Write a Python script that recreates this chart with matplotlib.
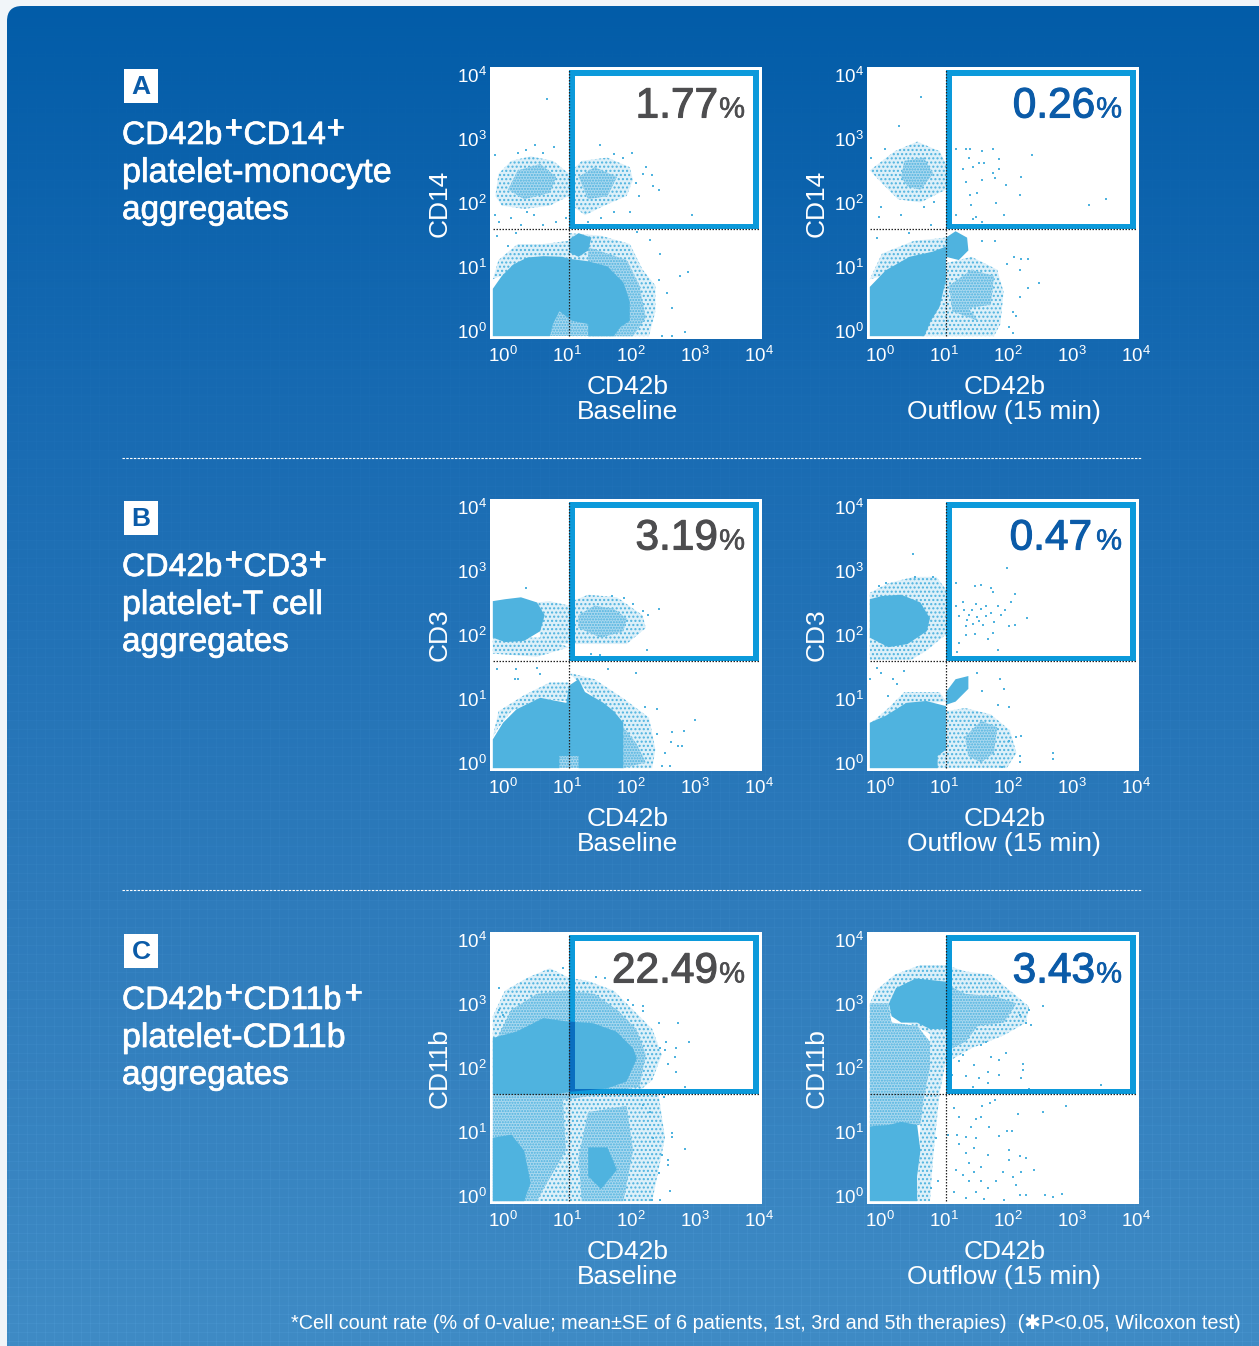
import numpy as np
import matplotlib
matplotlib.use('Agg')
import matplotlib.pyplot as plt
from matplotlib.patches import FancyBboxPatch, Rectangle, PathPatch
from matplotlib.path import Path
from matplotlib.transforms import ScaledTranslation
import matplotlib.patheffects as pe

plt.rcParams['font.family'] = ['Liberation Sans', 'DejaVu Sans']
plt.rcParams['mathtext.default'] = 'regular'
plt.rcParams['hatch.linewidth'] = 1.0

W, H = 1259, 1346
DOT = '#4FB3DF'; MID = '#A9D8EF'; LIGHT = '#DDF0F9'
GATE = '#0C9ADB'; GREY = '#4D4D4F'; NAVY = '#0B5BA8'

TICKS = [1, 10, 100, 1000, 10000]
TICK_LABELS = ['$10^{0}$', '$10^{1}$', '$10^{2}$', '$10^{3}$', '$10^{4}$']
GATE_X = 1.0
GATE_Y = 1.48
LETTERS = ['A', 'B', 'C']
MARKERS = ['CD14', 'CD3', 'CD11b']
CONDITIONS = ['Baseline', 'Outflow (15 min)']
TITLE_FIRST = ['CD14', 'CD3', 'CD11b']
TITLE_SECOND = ['platelet-monocyte', 'platelet-T cell', 'platelet-CD11b']
PCT_BASE = ['1.77', '3.19', '22.49']
PCT_OUT = ['0.26', '0.47', '3.43']

# All cloud values are log10 fluorescence.
A_BASE_LIGHT = [
 [(-.15,2.0),(-.1,2.35),(.1,2.55),(.4,2.62),(.75,2.55),(1.0,2.35),(1.0,2.0),(.7,1.85),(.3,1.8),(-.05,1.85)],
 [(1,2.35),(1.2,2.55),(1.6,2.6),(1.95,2.45),(2.0,2.25),(1.9,2.0),(1.55,1.85),(1.25,1.7),(1.05,1.85)],
 [(1.0,1.42),(1.5,1.38),(1.95,1.25),(2.15,.85),(2.35,.6),(2.35,.2),(2.25,-.19),(1.0,-.19)],
 [(-.19,.7),(-.1,1.0),(.2,1.25),(.6,1.25),(1,1.3),(1,.9),(.3,.9)]]
A_BASE_MID = [
 [(.05,2.1),(.2,2.4),(.55,2.5),(.8,2.3),(.7,2.05),(.3,1.95)],
 [(1.15,2.3),(1.4,2.45),(1.75,2.3),(1.6,2.0),(1.3,1.95)],
 [(1.3,1.2),(1.9,1.0),(2.1,.6),(2.2,.1),(2.0,-.19),(1.3,-.19)],
 [(.6,-.19),(.6,.2),(1.3,.2),(1.3,-.19)]]
A_BASE_DENSE = [
 [(-.19,-.19),(-.19,.55),(-.05,.75),(.13,.93),(.35,1.04),(.6,1.06),(.9,1.05),(1.0,1.02),(1.3,.98),(1.6,.9),(1.85,.65),(1.95,.35),(1.95,.05),(1.8,-.05),(1.7,-.19),(1.3,-.19),(1.3,0),(1.05,.05),(.85,.2),(.75,0),(.7,-.19)],
 [(1.0,1.12),(1.0,1.32),(1.15,1.42),(1.35,1.35),(1.3,1.15),(1.15,1.05)]]
A_BASE_DOTS = [(.65,3.51),(2.92,1.70),(2.40,2.10),(2.32,2.16),(2.21,2.46),(2.29,2.33),(1.98,2.67),(1.49,2.79),(.47,2.79),(.77,2.76),(.33,2.72),(-.16,2.64),
 (2.86,.81),(2.73,.75),(2.53,.48),(2.61,.25),(2.82,-.13),(2.61,-.18),(2.46,-.18),(2.42,1.10),(2.27,1.31),(2.06,1.44),(2.40,.69),(2.27,.64),(-.13,1.37),(.05,1.22),(.18,1.42),
 (-.15,1.7),(-.1,1.6),(.1,1.65),(.25,1.55),(.45,1.7),(.6,1.55),(.8,1.6),(.95,1.65),(.35,1.75),(1.3,1.6),(1.5,1.65),(1.7,1.75),(1.95,1.75),(2.1,2.0),(2.05,2.2),(2.15,2.35),(1.85,2.6),(1.7,2.65),(.2,2.68),(.6,2.68)]

A_OUT_LIGHT = [
 [(-.0,2.2),(-.19,2.4),(.2,2.7),(.55,2.85),(.9,2.7),(1.0,2.5),(1.0,2.1),(.6,1.9),(.25,1.95)],
 [(1.0,.95),(1.4,1.05),(1.8,.85),(1.9,.5),(1.85,0),(1.75,-.19),(1.0,-.19)],
 [(-.19,.7),(0,1.1),(.5,1.3),(1,1.35),(1,1.1),(.4,1.0),(0,.75)],
 [(.6,-.19),(.85,.35),(1,.7),(1,-.19)]]
A_OUT_MID = [
 [(.3,2.3),(.35,2.55),(.65,2.6),(.8,2.35),(.6,2.1),(.4,2.15)],
 [(1.05,.6),(1.4,.85),(1.75,.75),(1.7,.3),(1.35,.25),(1.5,.05),(1.1,.2)]]
A_OUT_DENSE = [
 [(-.19,-.19),(-.19,.58),(.06,.84),(.43,1.05),(.79,1.13),(1.0,1.21),(1.0,.69),(.9,.27),(.77,.06),(.66,-.19)],
 [(1.0,1.05),(1.0,1.35),(1.15,1.45),(1.33,1.35),(1.35,1.15),(1.2,1.0)]]
A_OUT_DOTS = [(.61,3.54),(.26,3.09),(1.16,2.73),(1.31,2.73),(1.38,2.73),(1.57,2.71),(1.73,2.73),(2.35,2.64),(1.83,2.58),(1.6,2.51),(1.42,2.46),(1.26,2.43),(1.36,2.6),(1.52,2.51),(1.83,2.43),(1.73,2.36),(2.17,2.30),(1.94,2.18),(1.76,2.28),(1.57,2.25),(1.31,2.22),(1.38,2.02),(1.48,2.04),(2.15,2.02),(1.78,1.89),(3.5,1.95),(3.23,1.86),(1.39,1.86),(1.91,1.70),(1.42,1.64),(1.16,1.70),(1.47,1.67),(1.57,1.59),(2.45,.64),(2.28,.56),(2.15,.84),(2.17,1.02),(2.07,1.04),(2.28,1.02),(1.96,.94),(2.04,.19),(2.09,.12),(2.15,.43),(1.99,-.04),(2.04,-.14),(-.17,2.6),(.04,2.73),(-.02,1.83),(-.04,1.68),(.3,1.7),(.66,1.83),(.82,1.91),(.77,1.55),(.43,1.42),(-.07,1.34),(1.76,1.29),(1.56,1.29)]

B_BASE_LIGHT = [
 [(1,1.75),(1,2.4),(1.3,2.52),(1.75,2.48),(2.15,2.2),(2.2,2.0),(1.9,1.75)],
 [(-.19,1.6),(-.19,1.85),(.6,1.85),(1,1.7),(.5,1.55)],
 [(1.0,1.3),(1.4,1.2),(1.85,.9),(2.25,.6),(2.35,.1),(2.3,-.19),(1.8,-.19),(1.85,.5),(1.3,1.0)],
 [(-.19,.3),(-.1,.7),(.3,.95),(.7,1.15),(1,1.15),(1,.85),(.55,.9),(.1,.7),(-.1,.45)],
 [(.55,1.85),(.5,2.4),(.7,2.42),(1.0,2.35),(1.0,1.75),(.7,1.75)]]
B_BASE_MID = [
 [(1.15,2.0),(1.15,2.2),(1.4,2.35),(1.7,2.3),(1.9,2.15),(1.85,1.95),(1.5,1.85)],
 [(1.85,.45),(2.05,.2),(2.2,-.1),(1.85,-.19)],
 [(.85,-.19),(.85,.05),(1.15,.05),(1.15,-.19)]]
B_BASE_DENSE = [
 [(-.19,1.85),(-.19,2.42),(0,2.45),(.25,2.48),(.5,2.4),(.62,2.2),(.55,1.95),(.3,1.8),(0,1.78)],
 [(-.19,-.19),(-.19,.26),(-.03,.52),(.18,.73),(.55,.91),(.96,.83),(1.0,1.1),(1.15,1.2),(1.25,1.0),(1.54,.83),(1.7,.7),(1.85,.52),(1.85,-.19),(1.15,-.19),(1.15,0),(.85,0),(.85,-.19)]]
B_BASE_DOTS = [(.33,2.62),(2.4,2.29),(2.22,1.66),(2.24,2.2),(2.16,2.27),(2.0,2.37),(1.86,2.47),(1.68,2.5),(-.13,1.36),(.17,1.36),(.5,1.38),(.55,1.28),(.15,1.2),(.21,1.2),(1.61,1.36),(2.04,1.3),(2.97,.57),(2.79,.39),(2.61,.37),(2.6,.22),(2.71,.16),(2.77,.16),(2.5,.04),(2.58,-.16),(2.45,-.16),(2.37,.73),(2.19,.76),(2.37,.34),(1.35,1.6),(1.48,1.58)]

B_OUT_LIGHT = [
 [(-.19,1.5),(-.19,2.55),(.1,2.7),(.5,2.8),(.85,2.8),(1.0,2.6),(1.0,1.9),(.7,1.65),(.45,1.5)],
 [(1,.7),(1.3,.75),(1.7,.65),(2,.4),(2.1,.05),(1.95,-.19),(1,-.19)],
 [(-.19,.5),(.1,.75),(.35,1.0),(.9,1.0),(1,.85),(.4,.8)],
 [(.85,-.19),(.85,.05),(1,.15),(1,-.19)]]
B_OUT_MID = [[(1.3,.3),(1.55,.55),(1.8,.45),(1.75,.05),(1.55,-.1),(1.35,0)]]
B_OUT_DENSE = [
 [(-.19,1.85),(-.19,2.45),(0,2.5),(.3,2.52),(.6,2.4),(.75,2.15),(.7,1.95),(.4,1.75),(.1,1.7)],
 [(-.19,-.19),(-.19,.52),(.06,.63),(.38,.83),(.69,.86),(1.0,.78),(1.0,.1),(.87,0),(.87,-.19)],
 [(1.0,.8),(1.0,1.0),(1.15,1.2),(1.35,1.25),(1.35,1.05),(1.15,.85)]]
B_OUT_DOTS = [(.49,3.16),(1.96,2.94),(1.16,2.71),(1.45,2.65),(1.55,2.68),(1.7,2.63),(1.73,2.56),(2.08,2.53),(2.02,2.4),(1.81,2.34),(1.93,2.28),(1.86,2.21),(2.27,2.16),(1.99,2.03),(2.08,2.04),(1.73,1.92),(1.65,1.83),(1.45,1.9),(1.31,1.89),(1.21,1.77),(1.18,1.63),(1.82,1.65),(1.64,1.54),(1.48,1.3),(1.85,1.21),(1.9,1.05),(1.99,.76),(1.57,1.02),(1.82,.79),(2.17,.31),(2.09,.29),(1.99,.24),(2.15,.0),(2.15,-.1),(2.67,.04),(2.67,-.05),(1.88,-.17),(-.07,1.38),(-.02,1.3),(.35,1.33),(.17,1.2),(.24,1.12),(.09,.94),(-.19,1.21),(.07,2.71),(-.04,2.65),(.52,2.8),(.79,2.8),
 (1.36,2.21),(1.47,2.37),(1.55,2.29),(1.26,2.4),(1.62,2.19),(1.52,2.11),(1.42,2.06),(1.21,2.19),(1.31,2.03),(1.7,2.24),(1.62,2.34),(1.16,2.34),(1.4,2.28),(1.33,2.13),(1.58,2.05),(1.75,2.1),(1.48,2.18),(1.28,2.28)]

C_BASE_LIGHT = [
 [(-.19,1.48),(-.19,2.7),(0,3.1),(.35,3.3),(.7,3.45),(1.0,3.3),(1.3,3.25),(1.7,3.1),(2.0,2.8),(2.3,2.5),(2.45,2.1),(2.3,1.7),(2.0,1.45)],
 [(.45,-.19),(.55,.2),(.9,.7),(.9,1.48),(2.4,1.48),(2.5,.8),(2.3,-.19)]]
C_BASE_MID = [
 [(-.1,2.4),(.1,2.8),(.5,3.05),(.95,3.1),(1.4,3.05),(1.75,2.8),(2.05,2.5),(2.2,2.1),(2.1,1.6),(1,1.4),(-.19,1.4)],
 [(-.19,-.19),(-.19,1.48),(.9,1.48),(.95,.6),(.6,0),(.5,-.19)],
 [(1.2,-.19),(1.15,.5),(1.3,1.2),(1.9,1.3),(2.0,.6),(1.85,-.19)]]
C_BASE_DENSE = [
 [(-.19,2.36),(.18,2.46),(.6,2.67),(.96,2.62),(1.38,2.59),(1.74,2.46),(2.0,2.2),(2.06,2.04),(1.9,1.68),(1.59,1.57),(1.02,1.52),(.75,1.47),(-.19,1.48)],
 [(-.19,-.19),(-.19,.8),(.1,.85),(.3,.6),(.4,.1),(.3,-.19)],
 [(1.3,.2),(1.3,.65),(1.6,.65),(1.75,.3),(1.5,0)]]
C_BASE_DOTS = [(.9,3.46),(-.1,3.14),(.83,3.34),(1.43,3.31),(1.56,3.29),(1.24,3.22),(2.16,2.86),(2.16,2.78),(2.4,2.59),(2.71,2.59),(2.88,2.29),(2.68,2.21),(2.52,2.29),(2.66,2.07),(2.55,1.95),(2.67,1.83),(2.5,2.17),(2.42,2.2),(2.82,1.59),(2.49,1.44),(2.61,.87),(2.61,.81),(2.82,.63),(2.55,.45),(2.55,.37),(2.58,-.03),(2.42,-.17),(2.29,-.17),(2.4,.25),(2.32,.79),(2.45,.53),(2.27,1.21),(2.16,1.31),(2.0,2.88),(1.93,2.95),(-.1,2.8),(-.03,2.72)]

C_OUT_LIGHT = [
 [(-.19,2.9),(-.1,3.1),(.2,3.35),(.6,3.5),(1,3.5),(1.3,3.4),(1.7,3.35),(2,3.1),(2.3,2.85),(2.25,2.6),(1.9,2.4),(1.4,2.2),(1.05,2.0),(1,2.3)],
 [(.55,-.19),(.75,-.19),(.8,.5),(.85,1.0),(.9,1.5),(1,2.0),(1,2.5),(.75,2.5),(.75,1.9),(.65,1.4),(.6,1.0)]]
C_OUT_MID = [
 [(-.19,.98),(-.19,2.9),(.1,2.9),(.15,2.6),(.55,2.55),(.75,2.3),(.75,1.9),(.65,1.4),(.6,1.0)],
 [(1.0,2.3),(1.0,3.2),(1.3,3.05),(1.8,3.0),(2.1,2.9),(1.9,2.6),(1.5,2.55),(1.3,2.3),(1.1,2.2)]]
C_OUT_DENSE = [
 [(.11,2.9),(.22,3.14),(.53,3.29),(1.0,3.24),(1.0,2.5),(.75,2.5),(.55,2.6),(.3,2.6),(.15,2.7)],
 [(-.19,-.19),(-.19,.98),(.1,1.0),(.3,1.05),(.55,1.0),(.6,.6),(.55,.2),(.55,-.19)]]
C_OUT_DOTS = [(3.42,1.63),(2.88,1.29),(2.51,1.2),(2.51,2.86),(2.33,2.56),(2.25,2.6),(2.15,2.72),(2.3,2.8),(2.21,1.96),(2.21,1.86),(1.94,2.12),(1.83,2.02),(1.7,2.07),(1.55,2.25),(1.63,2.3),(1.26,2.09),(1.21,2.0),(1.44,1.94),(1.31,1.76),(1.1,1.78),(1.52,1.73),(1.65,1.83),(1.83,1.78),(2.17,1.74),(1.65,1.65),(1.42,1.59),(2.3,1.56),(1.76,1.39),(1.57,1.3),(1.69,1.34),(1.13,1.26),(1.21,1.13),(1.47,1.1),(1.55,1.13),(2.12,1.18),(1.68,.97),(1.96,.9),(2.03,.9),(1.83,.83),(1.39,.97),(1.18,.84),(1.03,.84),(1.31,.82),(1.47,.79),(1.21,.71),(1.44,.64),(1.31,.56),(1.65,.53),(1.99,.61),(2.15,.51),(2.25,.48),(1.99,.45),(2.38,.3),(2.17,.27),(1.36,.4),(1.55,.35),(1.44,.27),(1.16,.3),(1.26,.22),(1.89,.27),(2.04,.19),(1.55,.12),(1.36,.12),(1.78,.12),(2.09,.06),(1.65,.01),(1.13,-.04),(1.47,-.04),(1.31,-.14),(1.6,-.16),(1.91,-.17),(2.15,-.1),(2.25,-.1),(2.54,-.1),(2.67,-.12),(2.81,-.07),(.87,.12),(.84,.79),(.77,.01)]

CLOUDS = [
 [(A_BASE_LIGHT, A_BASE_MID, A_BASE_DENSE, A_BASE_DOTS), (A_OUT_LIGHT, A_OUT_MID, A_OUT_DENSE, A_OUT_DOTS)],
 [(B_BASE_LIGHT, B_BASE_MID, B_BASE_DENSE, B_BASE_DOTS), (B_OUT_LIGHT, B_OUT_MID, B_OUT_DENSE, B_OUT_DOTS)],
 [(C_BASE_LIGHT, C_BASE_MID, C_BASE_DENSE, C_BASE_DOTS), (C_OUT_LIGHT, C_OUT_MID, C_OUT_DENSE, C_OUT_DOTS)],
]

fig = plt.figure(figsize=(W/100, H/100), dpi=100, facecolor='#F1F5F9')

# Background page
bg = fig.add_axes([0, 0, 1, 1], zorder=0)
bg.set_xlim(0, W); bg.set_ylim(H, 0); bg.axis('off')
stops_y = [0, 450, 900, 1346]
stops = np.array([[2, 92, 168], [26, 108, 179], [46, 123, 187], [63, 139, 197]], float)
col = np.stack([np.interp(np.arange(H), stops_y, stops[:, i]) for i in range(3)], axis=1)
img = np.repeat(col[:, None, :], W, axis=1)
grid_gain = np.linspace(0, 5, H)[:, None, None]
img[::9, :, :] += grid_gain[::9]
img[:, ::9, :] += grid_gain
im = bg.imshow(np.clip(img, 0, 255).astype(np.uint8), extent=(0, W, H, 0), aspect='auto', interpolation='nearest')
clip = FancyBboxPatch((7, 6), W + 30, H + 30, boxstyle='round,pad=0,rounding_size=15',
                      transform=bg.transData, fc='none', ec='none')
bg.add_patch(clip)
im.set_clip_path(clip)
bg.set_xlim(0, W); bg.set_ylim(H, 0)

# Overlay for text blocks
top = fig.add_axes([0, 0, 1, 1], zorder=5)
top.set_xlim(0, W); top.set_ylim(H, 0); top.axis('off'); top.patch.set_alpha(0)

COL_X = [490, 867]
ROW_Y = [67, 499, 932]
SIDE = 272
LOG_MIN, LOG_MAX = -0.234, 4.016


def draw_panel(ax, light, mid, dense, dots):
    for polys, face, hatch, z in ((light, LIGHT, '....', 1), (mid, MID, '......', 2)):
        for p in polys:
            a = np.array(p)
            ax.fill(10 ** a[:, 0], 10 ** a[:, 1], facecolor=face, edgecolor=DOT, hatch=hatch, lw=0, zorder=z)
    for p in dense:
        a = np.array(p)
        ax.fill(10 ** a[:, 0], 10 ** a[:, 1], color=DOT, lw=0, zorder=3)
    d = np.array(dots)
    ax.scatter(10 ** d[:, 0], 10 ** d[:, 1], s=2.6, marker='s', color=DOT, linewidths=0, zorder=4)
    # Gate frame
    x0, x1, y0, y1 = 10 ** 1.0, 10 ** 3.975, 10 ** GATE_Y, 10 ** 3.975
    ix0, ix1, iy0, iy1 = 10 ** 1.094, 10 ** 3.88, 10 ** 1.565, 10 ** 3.88
    verts = [(x0, y0), (x1, y0), (x1, y1), (x0, y1), (x0, y0),
             (ix0, iy0), (ix0, iy1), (ix1, iy1), (ix1, iy0), (ix0, iy0)]
    codes = [Path.MOVETO, Path.LINETO, Path.LINETO, Path.LINETO, Path.CLOSEPOLY] * 2
    frame = PathPatch(Path(verts, codes), fc=GATE, ec='none', zorder=5)
    ax.add_patch(frame)
    # Overlap of the translucent frame with the dense cloud
    for p in dense:
        a = np.array(p)
        over = ax.fill(10 ** a[:, 0], 10 ** a[:, 1], color='#0A6FC0', lw=0, zorder=6)[0]
        over.set_clip_path(frame)
    ax.plot([10 ** -0.19, 10 ** 3.975], [10 ** GATE_Y] * 2, color='#222222', lw=0.9,
            dashes=(1.2, 1.2), zorder=7)
    ax.plot([10 ** GATE_X] * 2, [10 ** -0.19, 10 ** 3.975], color='#222222', lw=0.9,
            dashes=(1.2, 1.2), zorder=7)


for r, row_y in enumerate(ROW_Y):
    for c, col_x in enumerate(COL_X):
        ax = fig.add_axes([col_x / W, 1 - (row_y + SIDE) / H, SIDE / W, SIDE / H], zorder=2)
        ax.set_xscale('log'); ax.set_yscale('log')
        draw_panel(ax, *CLOUDS[r][c])
        ax.set_xlim(10 ** LOG_MIN, 10 ** LOG_MAX)
        ax.set_ylim(10 ** LOG_MIN, 10 ** LOG_MAX)
        ax.set_xticks(TICKS); ax.set_xticklabels(TICK_LABELS)
        ax.set_yticks(TICKS); ax.set_yticklabels(TICK_LABELS)
        ax.minorticks_off()
        ax.tick_params(length=0, labelsize=13.5, colors='white')
        ax.tick_params(axis='x', pad=5)
        ax.tick_params(axis='y', pad=3)
        for lab in ax.get_xticklabels():
            lab.set_transform(lab.get_transform() + ScaledTranslation(-2 / 100, 0, fig.dpi_scale_trans))
        for lab in ax.get_yticklabels():
            lab.set_transform(lab.get_transform() + ScaledTranslation(1 / 100, -7 / 100, fig.dpi_scale_trans))
        for s in ax.spines.values():
            s.set_visible(False)
        ax.set_xlabel('CD42b\n' + CONDITIONS[c], color='white', fontsize=19, linespacing=1.06)
        ax.xaxis.set_label_coords(0.505, -0.131)
        ax.set_ylabel(MARKERS[r], color='white', fontsize=19, labelpad=4)
        # percentages
        num_r = col_x + 228
        if c == 1 and r == 1:
            num_r -= 3
        base = row_y + 50.5
        value = (PCT_BASE if c == 0 else PCT_OUT)[r]
        tone = GREY if c == 0 else NAVY
        top.text(num_r, base, value, fontsize=30.5, color=tone, ha='right', va='baseline',
                 path_effects=[pe.withStroke(linewidth=0.8, foreground=tone)])
        top.text(col_x + 255, base, '%', fontsize=21, color=tone, ha='right', va='baseline',
                 path_effects=[pe.withStroke(linewidth=0.4, foreground=tone)])

# Left-hand titles
PLUS2_X = [326, 308, 344]
SECOND_SIZE = [24.6, 24.4, 24.4]
OFFS = [0, 432, 865]
stroke = [pe.withStroke(linewidth=0.5, foreground='white')]
for r, off in enumerate(OFFS):
    top.add_patch(Rectangle((124, 69 + off), 34, 34, fc='white', ec='none'))
    top.text(141, 87 + off, LETTERS[r], fontsize=19, fontweight='bold', color=NAVY, ha='center', va='center')
    kw = dict(color='white', va='baseline', path_effects=stroke)
    top.text(122, 144 + off, 'CD42b', fontsize=23.2, **kw)
    top.text(224, 138 + off, '+', fontsize=23.2, **kw)
    top.text(243.5, 144 + off, TITLE_FIRST[r], fontsize=23.2, **kw)
    top.text(PLUS2_X[r], 138 + off, '+', fontsize=23.2, **kw)
    top.text(122, 182 + off, TITLE_SECOND[r], fontsize=SECOND_SIZE[r], **kw)
    top.text(122, 219 + off, 'aggregates', fontsize=24.0, **kw)

for y in (458, 890):
    top.plot([122, 1141], [y, y], color='white', lw=0.8, dashes=(2.2, 1.2))

top.text(291, 1329, '*Cell count rate (% of 0-value; mean\u00b1SE of 6 patients, 1st, 3rd and 5th therapies)  (\u2731P<0.05, Wilcoxon test)',
         fontsize=14.35, color='white', va='baseline', ha='left')
top.set_xlim(0, W); top.set_ylim(H, 0)

fig.savefig('out.png', dpi=100, facecolor=fig.get_facecolor())
